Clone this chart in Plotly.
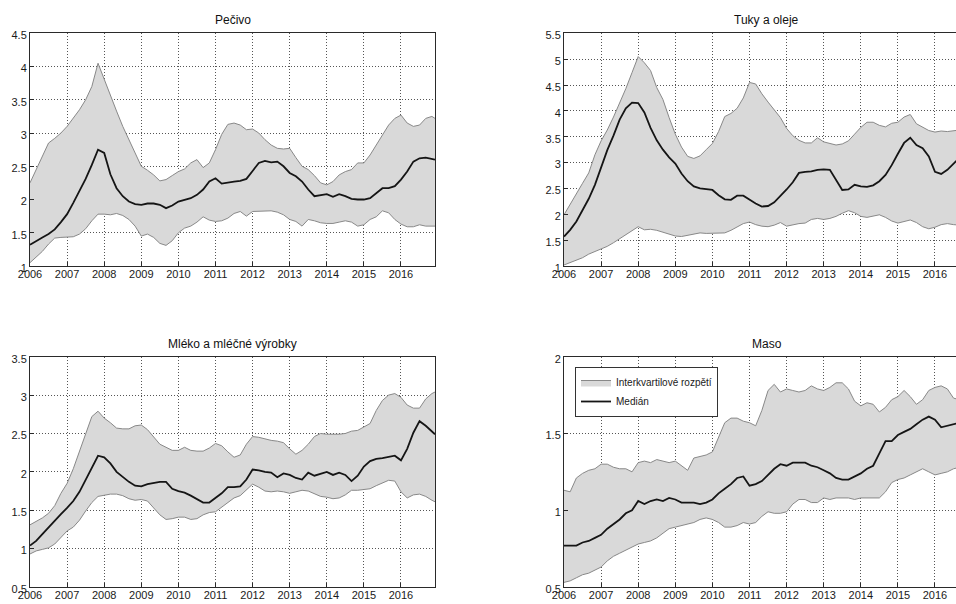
import plotly.graph_objects as go

# Sampling grid: every second month from Jan 2006, plus Dec 2016
months = list(range(0, 131, 2)) + [131]
years = [2006 + m / 12 for m in months]

year_ticks = list(range(2006, 2017))

# Pečivo
pecivo_low = [
    1.05, 1.13, 1.22, 1.33, 1.42, 1.43, 1.43, 1.44, 1.48, 1.56,
    1.68, 1.78, 1.78, 1.77, 1.79, 1.76, 1.70, 1.60, 1.45, 1.48,
    1.43, 1.34, 1.31, 1.38, 1.50, 1.57, 1.60, 1.66, 1.74, 1.69,
    1.67, 1.68, 1.72, 1.79, 1.82, 1.75, 1.82, 1.82, 1.82, 1.83,
    1.81, 1.77, 1.70, 1.67, 1.60, 1.70, 1.68, 1.65, 1.64, 1.64,
    1.66, 1.68, 1.66, 1.60, 1.62, 1.70, 1.74, 1.83, 1.80, 1.70,
    1.63, 1.59, 1.59, 1.62, 1.60, 1.60, 1.60,
]
pecivo_med = [
    1.32, 1.38, 1.43, 1.48, 1.55, 1.66, 1.78, 1.95, 2.12, 2.31,
    2.52, 2.75, 2.70, 2.38, 2.17, 2.05, 1.97, 1.93, 1.92, 1.94,
    1.94, 1.92, 1.87, 1.91, 1.97, 2.00, 2.02, 2.07, 2.15, 2.27,
    2.32, 2.24, 2.26, 2.27, 2.28, 2.31, 2.43, 2.55, 2.58, 2.56,
    2.57, 2.50, 2.40, 2.35, 2.27, 2.15, 2.05, 2.06, 2.08, 2.04,
    2.08, 2.05, 2.01, 2.00, 2.00, 2.02, 2.10, 2.17, 2.17, 2.20,
    2.30, 2.42, 2.57, 2.62, 2.63, 2.61, 2.60,
]
pecivo_high = [
    2.25, 2.45, 2.65, 2.85, 2.92, 3.00, 3.10, 3.22, 3.35, 3.50,
    3.70, 4.05, 3.80, 3.55, 3.33, 3.10, 2.90, 2.70, 2.50, 2.44,
    2.37, 2.28, 2.30, 2.36, 2.42, 2.46, 2.55, 2.60, 2.48, 2.55,
    2.75, 2.98, 3.13, 3.15, 3.12, 3.05, 3.06, 3.00, 2.90, 2.82,
    2.77, 2.76, 2.77, 2.63, 2.50, 2.45, 2.36, 2.25, 2.22, 2.27,
    2.37, 2.42, 2.45, 2.55, 2.55, 2.67, 2.82, 2.97, 3.12, 3.22,
    3.27, 3.15, 3.10, 3.12, 3.22, 3.25, 3.22,
]

# Tuky a oleje
tuky_low = [
    1.02, 1.07, 1.11, 1.16, 1.23, 1.28, 1.32, 1.38, 1.45, 1.53,
    1.60, 1.68, 1.76, 1.70, 1.71, 1.69, 1.65, 1.62, 1.58, 1.57,
    1.59, 1.62, 1.64, 1.63, 1.63, 1.63, 1.64, 1.69, 1.75, 1.82,
    1.85, 1.80, 1.77, 1.76, 1.79, 1.84, 1.77, 1.80, 1.82, 1.83,
    1.90, 1.92, 1.90, 1.92, 1.96, 2.02, 2.07, 2.03, 1.96, 1.94,
    1.97, 1.99, 1.94, 1.87, 1.83, 1.86, 1.89, 1.84, 1.76, 1.72,
    1.75, 1.80, 1.82, 1.80, 1.79, 1.80, 1.80,
]
tuky_med = [
    1.57, 1.70, 1.86, 2.07, 2.30, 2.57, 2.90, 3.24, 3.52, 3.83,
    4.05, 4.16, 4.15, 3.97, 3.67, 3.43, 3.25, 3.10, 2.98, 2.79,
    2.64, 2.54, 2.50, 2.49, 2.47, 2.37, 2.29, 2.28, 2.36, 2.36,
    2.28, 2.21, 2.15, 2.16, 2.23, 2.35, 2.48, 2.62, 2.80, 2.82,
    2.83, 2.86, 2.87, 2.86, 2.67, 2.47, 2.48, 2.57, 2.54, 2.53,
    2.56, 2.64, 2.76, 2.95, 3.17, 3.38, 3.48, 3.34, 3.28, 3.12,
    2.82, 2.78, 2.86, 2.98, 3.10, 3.15, 3.15,
]
tuky_high = [
    1.99, 2.20, 2.40, 2.60, 2.80, 3.15, 3.42, 3.63, 3.88, 4.15,
    4.43, 4.74, 5.05, 4.93, 4.78, 4.45, 4.22, 3.87, 3.55, 3.30,
    3.12, 3.08, 3.13, 3.25, 3.37, 3.60, 3.89, 3.95, 4.05, 4.25,
    4.55, 4.52, 4.33, 4.17, 4.02, 3.87, 3.66, 3.52, 3.43, 3.38,
    3.38, 3.48, 3.40, 3.37, 3.34, 3.36, 3.42, 3.55, 3.68, 3.78,
    3.78, 3.72, 3.69, 3.76, 3.78, 3.88, 3.93, 3.75, 3.68, 3.62,
    3.59, 3.61, 3.60, 3.61, 3.63, 3.65, 3.65,
]

# Mléko a mléčné výrobky
mleko_low = [
    0.93, 0.97, 0.99, 1.01, 1.06, 1.15, 1.23, 1.28, 1.37, 1.49,
    1.60, 1.68, 1.70, 1.71, 1.71, 1.69, 1.65, 1.63, 1.64, 1.62,
    1.53, 1.44, 1.38, 1.39, 1.41, 1.41, 1.38, 1.39, 1.44, 1.47,
    1.48, 1.54, 1.60, 1.66, 1.69, 1.76, 1.84, 1.80, 1.75, 1.74,
    1.75, 1.74, 1.72, 1.74, 1.76, 1.75, 1.71, 1.68, 1.67, 1.65,
    1.66, 1.70, 1.76, 1.76, 1.77, 1.78, 1.82, 1.86, 1.89, 1.88,
    1.74, 1.66, 1.70, 1.71, 1.68, 1.63, 1.61,
]
mleko_med = [
    1.04, 1.10, 1.19, 1.28, 1.37, 1.45, 1.53, 1.62, 1.74, 1.89,
    2.05, 2.21, 2.19, 2.11, 2.00, 1.93, 1.87, 1.82, 1.81, 1.84,
    1.86, 1.87, 1.87, 1.78, 1.75, 1.73, 1.69, 1.65, 1.60, 1.60,
    1.66, 1.72, 1.80, 1.80, 1.81, 1.90, 2.03, 2.02, 2.00, 1.99,
    1.93, 1.98, 1.96, 1.92, 1.90, 1.99, 1.95, 1.97, 2.00, 1.96,
    1.99, 1.96, 1.88, 1.95, 2.07, 2.14, 2.17, 2.18, 2.20, 2.21,
    2.15, 2.30, 2.51, 2.66, 2.60, 2.53, 2.49,
]
mleko_high = [
    1.31, 1.35, 1.40, 1.46, 1.56, 1.72, 1.85, 2.04, 2.26, 2.48,
    2.72, 2.79, 2.70, 2.64, 2.57, 2.56, 2.56, 2.60, 2.61, 2.55,
    2.46, 2.36, 2.32, 2.28, 2.28, 2.32, 2.28, 2.27, 2.27, 2.31,
    2.37, 2.34, 2.26, 2.19, 2.22, 2.36, 2.46, 2.45, 2.43, 2.41,
    2.40, 2.38, 2.30, 2.23, 2.28, 2.36, 2.46, 2.50, 2.49, 2.49,
    2.49, 2.50, 2.53, 2.54, 2.58, 2.63, 2.80, 2.93, 3.00, 3.02,
    2.97, 2.87, 2.83, 2.83, 2.95, 3.02, 3.04,
]

# Maso
maso_low = [
    0.53, 0.54, 0.56, 0.58, 0.59, 0.61, 0.63, 0.67, 0.70, 0.72,
    0.74, 0.76, 0.78, 0.79, 0.80, 0.82, 0.85, 0.88, 0.89, 0.90,
    0.91, 0.92, 0.94, 0.95, 0.94, 0.92, 0.89, 0.89, 0.90, 0.92,
    0.91, 0.92, 0.96, 0.99, 0.98, 0.98, 0.99, 1.04, 1.07, 1.07,
    1.05, 1.05, 1.08, 1.07, 1.08, 1.08, 1.08, 1.07, 1.08, 1.08,
    1.08, 1.08, 1.12, 1.18, 1.20, 1.21, 1.23, 1.25, 1.27, 1.25,
    1.23, 1.24, 1.25, 1.27, 1.28, 1.28, 1.28,
]
maso_med = [
    0.77, 0.77, 0.77, 0.79, 0.80, 0.82, 0.84, 0.88, 0.91, 0.94,
    0.98, 1.00, 1.06, 1.04, 1.06, 1.07, 1.06, 1.08, 1.07, 1.05,
    1.05, 1.05, 1.04, 1.05, 1.07, 1.11, 1.14, 1.17, 1.21, 1.22,
    1.16, 1.17, 1.19, 1.23, 1.27, 1.30, 1.29, 1.31, 1.31, 1.31,
    1.29, 1.28, 1.26, 1.24, 1.21, 1.20, 1.20, 1.22, 1.24, 1.27,
    1.29, 1.37, 1.45, 1.45, 1.49, 1.51, 1.53, 1.56, 1.59, 1.61,
    1.59, 1.54, 1.55, 1.56, 1.57, 1.57, 1.57,
]
maso_high = [
    1.13, 1.12, 1.21, 1.24, 1.26, 1.27, 1.30, 1.30, 1.28, 1.27,
    1.27, 1.25, 1.31, 1.32, 1.31, 1.33, 1.32, 1.31, 1.32, 1.29,
    1.26, 1.34, 1.35, 1.36, 1.38, 1.48, 1.57, 1.60, 1.60, 1.58,
    1.57, 1.55, 1.65, 1.78, 1.82, 1.77, 1.79, 1.78, 1.77, 1.78,
    1.81, 1.79, 1.78, 1.80, 1.83, 1.83, 1.79, 1.71, 1.68, 1.70,
    1.69, 1.64, 1.67, 1.72, 1.74, 1.78, 1.74, 1.69, 1.72, 1.78,
    1.80, 1.81, 1.79, 1.73, 1.72, 1.72, 1.72,
]

legend_band = "Interkvartilové rozpětí"
legend_median = "Medián"

W, H = 956, 604
FONT = "Arial, Liberation Sans, Helvetica, sans-serif"
AXIS_COLOR = "#2a2a2a"
GRID_COLOR = "#555555"
BAND_FILL = "#d9d9d9"
BAND_EDGE = "#888888"

# plot-area boxes in pixels: (left, right) and (top, bottom)
col_px = {"left": (30, 435), "right": (564, 956)}
row_px = {"top": (33.3, 266), "bottom": (356.7, 587)}

panels = [
    dict(title="Pečivo", low=pecivo_low, med=pecivo_med, high=pecivo_high,
         yrange=[1, 4.5], col="left", row="top"),
    dict(title="Tuky a oleje", low=tuky_low, med=tuky_med, high=tuky_high,
         yrange=[1, 5.5], col="right", row="top"),
    dict(title="Mléko a mléčné výrobky", low=mleko_low, med=mleko_med, high=mleko_high,
         yrange=[0.5, 3.5], col="left", row="bottom"),
    dict(title="Maso", low=maso_low, med=maso_med, high=maso_high,
         yrange=[0.5, 2], col="right", row="bottom", legend=True),
]

fig = go.Figure()
annotations = []
panel_w = col_px["left"][1] - col_px["left"][0]
ppy = panel_w / (131 / 12)  # pixels per year

for i, p in enumerate(panels, start=1):
    sx = "" if i == 1 else str(i)
    xa, ya = "x" + sx, "y" + sx
    show = p.get("legend", False)

    fig.add_trace(go.Scatter(
        x=years, y=p["low"], xaxis=xa, yaxis=ya, mode="lines",
        line=dict(color=BAND_EDGE, width=1), showlegend=False, hoverinfo="skip"))
    fig.add_trace(go.Scatter(
        x=years, y=p["high"], xaxis=xa, yaxis=ya, mode="lines",
        fill="tonexty", fillcolor=BAND_FILL,
        line=dict(color=BAND_EDGE, width=1), name=legend_band,
        showlegend=show, hoverinfo="skip"))
    fig.add_trace(go.Scatter(
        x=years, y=p["med"], xaxis=xa, yaxis=ya, mode="lines",
        line=dict(color="#151515", width=1.8), name=legend_median,
        showlegend=show, hoverinfo="skip"))

    x0, x1 = col_px[p["col"]]
    y0, y1 = row_px[p["row"]]
    xdom = [x0 / W, x1 / W]
    ydom = [(H - y1) / H, (H - y0) / H]
    xend = 2006 + (x1 - x0) / ppy
    cut = p["col"] == "right"

    fig.update_layout(**{
        "xaxis" + sx: dict(
            domain=xdom, anchor=ya, range=[2006, xend],
            tickmode="array", tickvals=year_ticks,
            ticktext=[str(t) for t in year_ticks],
            showgrid=True, gridcolor=GRID_COLOR, griddash="1px,2px", gridwidth=1,
            showline=True, linecolor=AXIS_COLOR, linewidth=1, mirror=True,
            ticks="inside", ticklen=4, tickcolor=AXIS_COLOR,
            ticklabelstandoff=-2,
            tickfont=dict(family=FONT, size=11, color="#1a1a1a"),
            zeroline=False, fixedrange=True, automargin=False),
        "yaxis" + sx: dict(
            domain=ydom, anchor=xa, range=p["yrange"],
            tickmode="linear", tick0=0.5, dtick=0.5,
            showgrid=True, gridcolor=GRID_COLOR, griddash="1px,2px", gridwidth=1,
            showline=True, linecolor=AXIS_COLOR, linewidth=1,
            mirror=False if cut else True,
            ticks="inside", ticklen=4, tickcolor=AXIS_COLOR,
            ticklabelshift=2,
            tickfont=dict(family=FONT, size=11, color="#1a1a1a"),
            zeroline=False, fixedrange=True, automargin=False),
    })

    annotations.append(dict(
        text=p["title"], xref="paper", yref="paper",
        x=(x0 + panel_w / 2) / W,
        y=(H - (y0 - 13)) / H, xanchor="center", yanchor="middle",
        showarrow=False, font=dict(family=FONT, size=12, color="#111111")))

fig.update_layout(
    width=W, height=H,
    margin=dict(l=0, r=0, t=0, b=0),
    paper_bgcolor="white", plot_bgcolor="white",
    annotations=annotations,
    showlegend=True,
    legend=dict(
        x=575 / W, y=(H - 367) / H, xanchor="left", yanchor="top",
        traceorder="normal",
        bgcolor="white", bordercolor="#333333", borderwidth=1,
        font=dict(family=FONT, size=10, color="#1a1a1a"),
        tracegroupgap=0, itemwidth=30),
    hovermode=False,
)

fig.write_html("out.html", config={"displayModeBar": False, "staticPlot": True})
